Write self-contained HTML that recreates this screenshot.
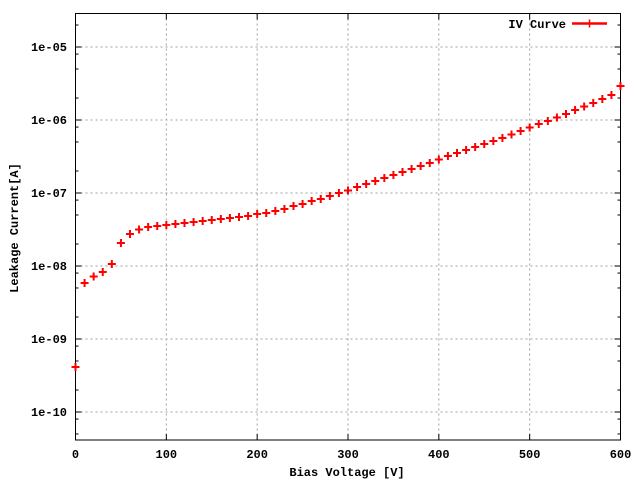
<!DOCTYPE html>
<html><head><meta charset="utf-8"><style>
html,body{margin:0;padding:0;background:#fff}
svg{display:block}
text{font-family:"Liberation Mono",monospace;font-weight:bold;font-size:12px;fill:#000}
</style></head><body>
<svg id="s" width="640" height="480" xmlns="http://www.w3.org/2000/svg">
<rect width="640" height="480" fill="#fff"/>
<g id="grid" stroke="#a0a0a0" stroke-width="1" stroke-dasharray="2,3"></g>
<g id="ticks" stroke="#000" stroke-width="1"></g>
<rect x="75.5" y="13.5" width="545" height="426.5" fill="none" stroke="#000" stroke-width="1"/>
<g id="lab"></g>
<text x="347" y="476" text-anchor="middle">Bias Voltage [V]</text>
<text transform="translate(18,228) rotate(-90)" text-anchor="middle">Leakage Current[A]</text>
<text x="566" y="28" text-anchor="end">IV Curve</text>
<line x1="572" y1="23.5" x2="607" y2="23.5" stroke="#f00" stroke-width="2.5"/>
<line x1="589.5" y1="19.5" x2="589.5" y2="27.5" stroke="#f00" stroke-width="1.5"/>
<g id="pts" stroke="#f00" stroke-width="2"></g>
</svg>
<script>
var NS="http://www.w3.org/2000/svg";
function el(p,t,a,txt){var e=document.createElementNS(NS,t);for(var k in a)e.setAttribute(k,a[k]);if(txt)e.textContent=txt;document.getElementById(p).appendChild(e);}
var L=75.5,R=620.5,T=13.5,B=440;
function X(v){return L+v*(R-L)/600;}
function Y(lg){return 412-(lg+10)*73;}
for(var v=0;v<=600;v+=100){var x=X(v);
 if(v>0&&v<600)el("grid","line",{x1:x,y1:T,x2:x,y2:B});
 el("ticks","line",{x1:x,y1:B,x2:x,y2:B-6});el("ticks","line",{x1:x,y1:T,x2:x,y2:T+6});
 el("lab","text",{x:x,y:458,"text-anchor":"middle"},String(v));}
for(var d=-10;d<=-5;d++){var y=Y(d);
 el("grid","line",{x1:L,y1:y,x2:R,y2:y});
 el("ticks","line",{x1:L,y1:y,x2:L+6,y2:y});el("ticks","line",{x1:R,y1:y,x2:R-6,y2:y});
 el("lab","text",{x:67,y:y+4,"text-anchor":"end"},"1e-"+(d==-5?"05":d==-6?"06":d==-7?"07":d==-8?"08":d==-9?"09":"10"));}
for(var d=-11;d<=-5;d++){[2,5,8].forEach(function(m){var y=Y(d+Math.log10(m));if(y>T&&y<B){
 el("ticks","line",{x1:L,y1:y,x2:L+3,y2:y});el("ticks","line",{x1:R,y1:y,x2:R-3,y2:y});}});}
var py=[367,283,276.5,272,264,243,234,229.5,227,226,225,224,223,222,221,220,219,218,217,216,214,213,211,209,206,204,201,199,196,193,190.5,187,184,181,178,175,172,169,166,163,159.5,156,153,150,147,144,141,138,134.5,131,127.5,124,121,117.5,114,110,106.5,103,99,95,86];
for(var i=0;i<py.length;i++){var x=X(i*10),y=py[i];
 el("pts","line",{x1:x-4,y1:y,x2:x+4,y2:y});el("pts","line",{x1:x,y1:y-4,x2:x,y2:y+4});}
</script>
</body></html>
